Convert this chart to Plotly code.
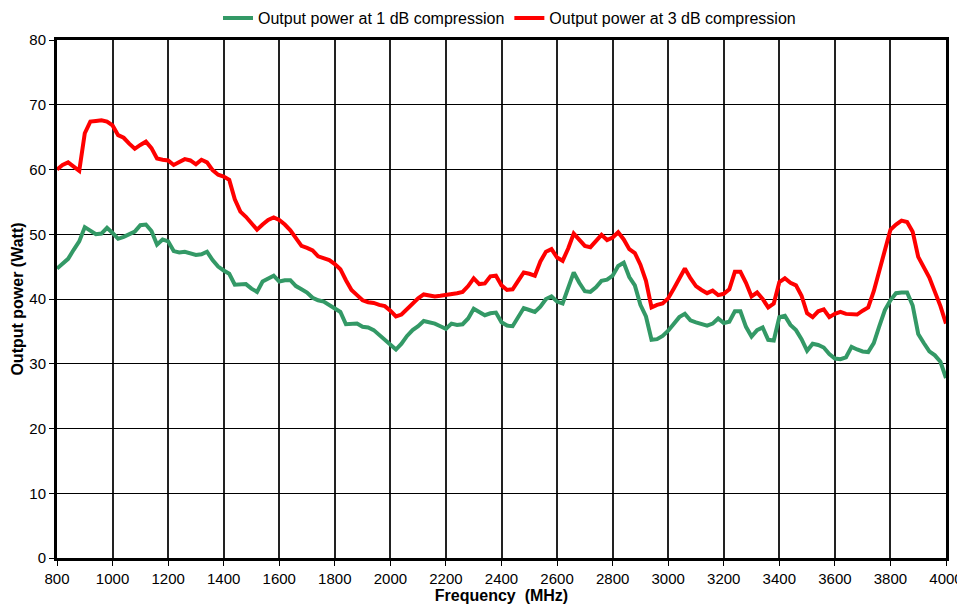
import plotly.graph_objects as go

freq_mhz = list(range(800, 4001, 20))

p1db_watt = [
    44.7, 45.5, 46.2, 47.6, 48.9, 51.1, 50.5, 50.0, 50.1, 51.0,
    50.2, 49.3, 49.6, 50.0, 50.4, 51.4, 51.5, 50.5, 48.4, 49.2,
    48.9, 47.4, 47.2, 47.3, 47.1, 46.8, 46.9, 47.3, 46.0, 45.0,
    44.4, 43.9, 42.2, 42.3, 42.3, 41.6, 41.1, 42.7, 43.2, 43.6,
    42.7, 42.9, 42.9, 42.0, 41.5, 41.0, 40.2, 39.8, 39.6, 39.1,
    38.5, 38.0, 36.1, 36.1, 36.2, 35.7, 35.6, 35.2, 34.4, 33.7,
    33.0, 32.2, 33.1, 34.3, 35.2, 35.8, 36.6, 36.4, 36.2, 35.8,
    35.4, 36.2, 36.0, 36.1, 37.0, 38.5, 38.0, 37.5, 37.8, 37.9,
    36.4, 35.9, 35.8, 37.2, 38.6, 38.3, 38.0, 38.8, 40.0, 40.4,
    39.6, 39.3, 41.5, 44.1, 42.5, 41.2, 41.1, 41.8, 42.8, 43.0,
    43.6, 45.1, 45.6, 43.4, 42.1, 39.1, 37.3, 33.7, 33.8, 34.3,
    35.1, 36.1, 37.2, 37.7, 36.7, 36.4, 36.1, 35.9, 36.2, 37.0,
    36.3, 36.5, 38.1, 38.1, 35.7, 34.2, 35.2, 35.6, 33.7, 33.6,
    37.2, 37.4, 36.0, 35.2, 33.8, 32.0, 33.1, 32.9, 32.5, 31.5,
    30.8, 30.7, 31.0, 32.6, 32.2, 31.9, 31.8, 33.2, 35.8, 38.3,
    39.8, 40.9, 41.0, 41.0, 39.0, 34.6, 33.2, 31.9, 31.3, 30.3,
    27.8,
]

p3db_watt = [
    60.0, 60.7, 61.1, 60.5, 59.8, 65.6, 67.4, 67.5, 67.6, 67.4,
    66.8, 65.3, 64.9, 64.0, 63.2, 63.8, 64.3, 63.3, 61.7, 61.5,
    61.4, 60.7, 61.2, 61.6, 61.4, 60.8, 61.5, 61.1, 59.9, 59.2,
    58.9, 58.4, 55.4, 53.5, 52.7, 51.7, 50.7, 51.5, 52.2, 52.6,
    52.2, 51.5, 50.6, 49.4, 48.2, 47.9, 47.5, 46.6, 46.3, 46.0,
    45.4, 44.6, 42.9, 41.4, 40.6, 39.8, 39.5, 39.4, 39.1, 38.9,
    38.2, 37.3, 37.6, 38.5, 39.4, 40.1, 40.7, 40.5, 40.4, 40.5,
    40.6, 40.7, 40.9, 41.1, 42.0, 43.2, 42.3, 42.4, 43.5, 43.6,
    42.1, 41.4, 41.5, 42.8, 44.1, 43.9, 43.6, 45.8, 47.3, 47.7,
    46.4, 45.9, 47.8, 50.1, 49.2, 48.2, 48.0, 49.0, 49.9, 49.1,
    49.5, 50.3, 49.2, 47.7, 47.1, 45.3, 42.8, 38.7, 39.1, 39.3,
    40.1, 41.6, 43.2, 44.7, 43.2, 42.0, 41.4, 40.9, 41.3, 40.6,
    40.8, 41.5, 44.2, 44.2, 42.5, 40.4, 41.0, 40.0, 38.7, 39.3,
    42.6, 43.2, 42.5, 42.1, 40.5, 37.8, 37.2, 38.1, 38.4, 37.2,
    37.7, 38.0, 37.7, 37.7, 37.6, 38.2, 38.7, 41.2, 44.5, 47.8,
    50.7, 51.5, 52.1, 51.9, 50.4, 46.5, 45.0, 43.3, 41.1, 38.9,
    36.2,
]

x_ticks = list(range(800, 4001, 200))
y_ticks = list(range(0, 81, 10))

font_family = "Liberation Sans, Arial, sans-serif"

fig = go.Figure()
fig.add_trace(go.Scatter(
    x=freq_mhz, y=p1db_watt, mode="lines",
    name="Output power at 1 dB compression",
    line=dict(color="#339966", width=4),
))
fig.add_trace(go.Scatter(
    x=freq_mhz, y=p3db_watt, mode="lines",
    name="Output power at 3 dB compression",
    line=dict(color="#FF0000", width=4),
))

fig.update_layout(
    width=957, height=598,
    margin=dict(l=49, r=19, t=32, b=48),
    paper_bgcolor="white", plot_bgcolor="white",
    font=dict(family=font_family, size=15, color="black"),
    showlegend=True,
    legend=dict(
        orientation="h", xref="paper", x=0.509, xanchor="center",
        yref="container", y=0.983, yanchor="middle",
        font=dict(size=16), itemwidth=30, tracegroupgap=0,
        bgcolor="rgba(0,0,0,0)",
    ),
    xaxis=dict(
        range=[800, 4000], tickvals=x_ticks, automargin=False,
        showgrid=True, gridcolor="#222222", gridwidth=1.5,
        showline=True, linecolor="black", linewidth=3, mirror=True,
        ticks="outside", ticklen=5, tickcolor="black",
        zeroline=False, tickfont=dict(size=15),
        title=dict(text="<b>Frequency  (MHz)</b>", font=dict(size=16), standoff=0),
    ),
    yaxis=dict(
        range=[0, 80], tickvals=y_ticks, automargin=False,
        showgrid=True, gridcolor="black", gridwidth=1,
        showline=True, linecolor="black", linewidth=3, mirror=True,
        ticks="outside", ticklen=5, tickcolor="black",
        zeroline=False, tickfont=dict(size=15),
        title=dict(text="<b>Output power (Watt)</b>", font=dict(size=16), standoff=2),
    ),
)

fig.write_html("out.html")
